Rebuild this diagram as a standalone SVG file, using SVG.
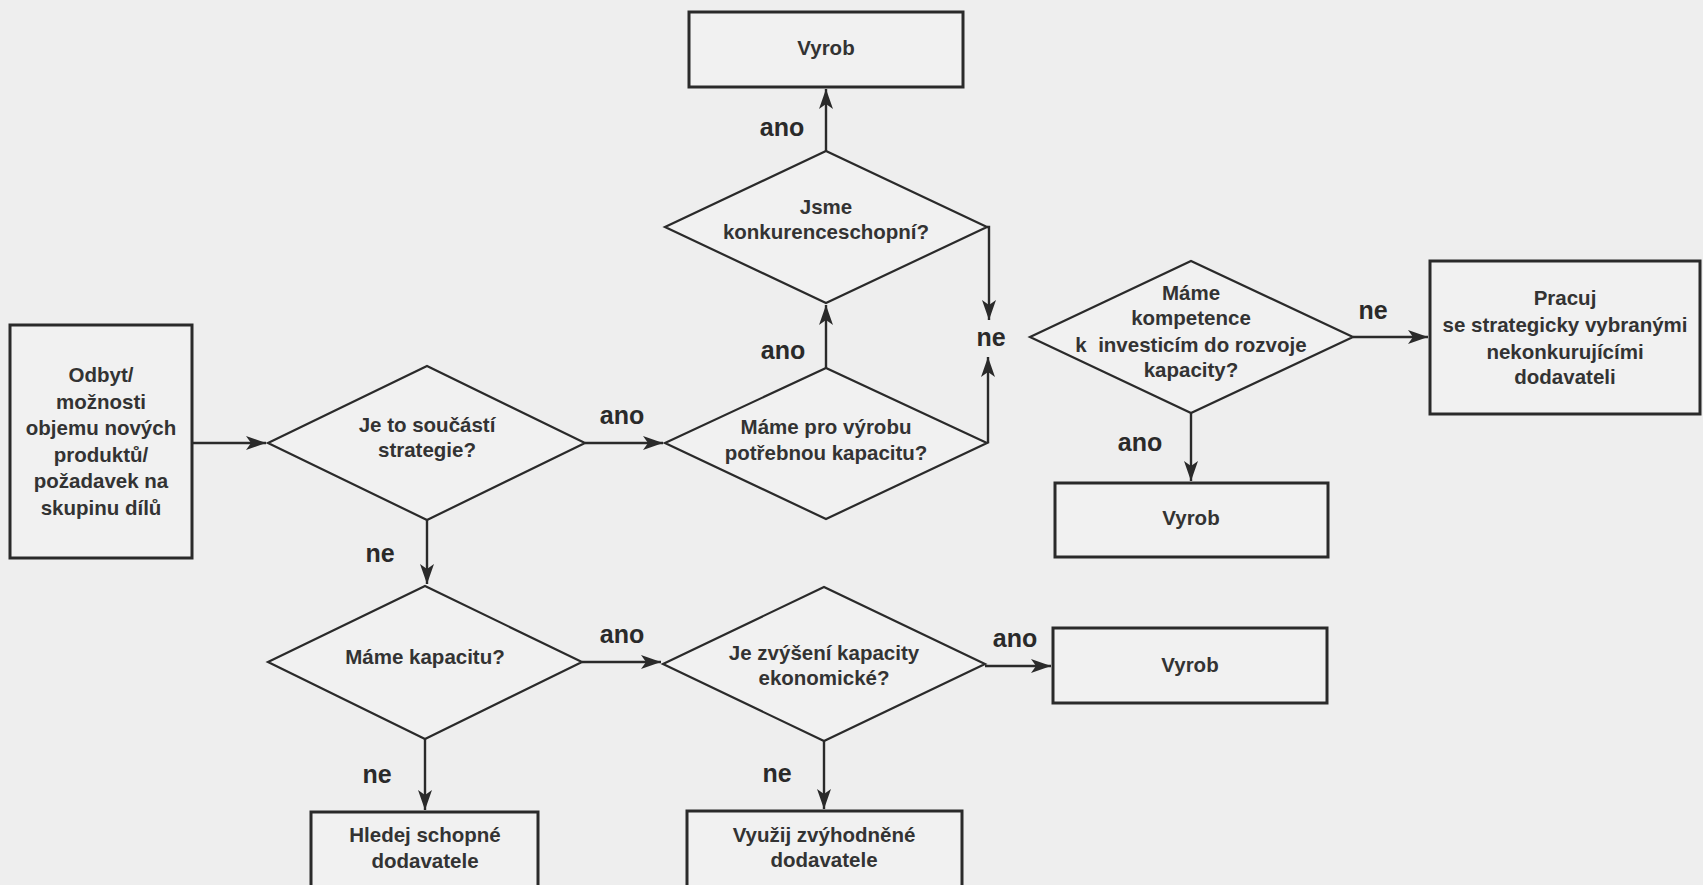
<svg xmlns="http://www.w3.org/2000/svg" width="1703" height="885" viewBox="0 0 1703 885">
<defs>
<style>
.bg{fill:#eeeeee}
.box{fill:#f1f1f1;stroke:#2a2a2a;stroke-width:3}
.dia{fill:#f1f1f1;stroke:#2a2a2a;stroke-width:2.2}
.t{font-family:"Liberation Sans",Arial,sans-serif;font-weight:bold;font-size:20.5px;fill:#333333;text-anchor:middle}
.lbl{font-family:"Liberation Sans",Arial,sans-serif;font-weight:bold;font-size:25px;fill:#2a2a2a;text-anchor:middle}
.c{fill:none;stroke:#2a2a2a;stroke-width:2.4}
</style>
<marker id="ah" markerUnits="userSpaceOnUse" markerWidth="20" markerHeight="14" refX="20" refY="7" orient="auto">
<path d="M0,0 L20,7 L0,14 L5,7 z" fill="#2a2a2a"/>
</marker>
</defs>
<rect class="bg" x="0" y="0" width="1703" height="885"/>

<g id="connectors">
<path class="c" d="M192,443 H266" marker-end="url(#ah)"/>
<path class="c" d="M585,443 H663" marker-end="url(#ah)"/>
<path class="c" d="M427,520 V584" marker-end="url(#ah)"/>
<path class="c" d="M826,368 V305" marker-end="url(#ah)"/>
<path class="c" d="M988,443 V357" marker-end="url(#ah)"/>
<path class="c" d="M826,151 V89" marker-end="url(#ah)"/>
<path class="c" d="M987,227 H989 V320" marker-end="url(#ah)"/>
<path class="c" d="M1353,337 H1428" marker-end="url(#ah)"/>
<path class="c" d="M1191,413 V481" marker-end="url(#ah)"/>
<path class="c" d="M582,662 H661" marker-end="url(#ah)"/>
<path class="c" d="M425,739 V810" marker-end="url(#ah)"/>
<path class="c" d="M985,666 H1051" marker-end="url(#ah)"/>
<path class="c" d="M824,741 V809" marker-end="url(#ah)"/>
<text class="lbl" x="622" y="415" dy="0.35em">ano</text>
<text class="lbl" x="380" y="553" dy="0.35em">ne</text>
<text class="lbl" x="783" y="350" dy="0.35em">ano</text>
<text class="lbl" x="782" y="127" dy="0.35em">ano</text>
<text class="lbl" x="991" y="337" dy="0.35em">ne</text>
<text class="lbl" x="1373" y="310" dy="0.35em">ne</text>
<text class="lbl" x="1140" y="442" dy="0.35em">ano</text>
<text class="lbl" x="622" y="634" dy="0.35em">ano</text>
<text class="lbl" x="377" y="774" dy="0.35em">ne</text>
<text class="lbl" x="1015" y="638" dy="0.35em">ano</text>
<text class="lbl" x="777" y="773" dy="0.35em">ne</text>
</g>

<g id="start">
<rect class="box" x="10" y="325" width="182" height="233"/>
<text class="t" x="101" y="375" dy="0.35em">Odbyt/</text>
<text class="t" x="101" y="401.5" dy="0.35em">možnosti</text>
<text class="t" x="101" y="428" dy="0.35em">objemu nových</text>
<text class="t" x="101" y="454.5" dy="0.35em">produktů/</text>
<text class="t" x="101" y="481" dy="0.35em">požadavek na</text>
<text class="t" x="101" y="507.5" dy="0.35em">skupinu dílů</text>
</g>

<g id="d-strategie">
<polygon class="dia" points="268,443 427,366 585,443 427,520"/>
<text class="t" x="427" y="425" dy="0.35em">Je to součástí</text>
<text class="t" x="427" y="450" dy="0.35em">strategie?</text>
</g>

<g id="d-vyroba">
<polygon class="dia" points="665,443 826,368 987,443 826,519"/>
<text class="t" x="826" y="427" dy="0.35em">Máme pro výrobu</text>
<text class="t" x="826" y="453" dy="0.35em">potřebnou kapacitu?</text>
</g>

<g id="d-konkurence">
<polygon class="dia" points="665,227 826,151 987,227 826,303"/>
<text class="t" x="826" y="207" dy="0.35em">Jsme</text>
<text class="t" x="826" y="232" dy="0.35em">konkurenceschopní?</text>
</g>

<g id="vyrob-top">
<rect class="box" x="689" y="12" width="274" height="75"/>
<text class="t" x="826" y="48" dy="0.35em">Vyrob</text>
</g>

<g id="d-kompetence">
<polygon class="dia" points="1030,337 1191,261 1353,337 1191,413"/>
<text class="t" x="1191" y="293" dy="0.35em">Máme</text>
<text class="t" x="1191" y="318" dy="0.35em">kompetence</text>
<text class="t" x="1191" y="345" dy="0.35em" xml:space="preserve">k  investicím do rozvoje</text>
<text class="t" x="1191" y="370" dy="0.35em">kapacity?</text>
</g>

<g id="pracuj">
<rect class="box" x="1430" y="261" width="270" height="153"/>
<text class="t" x="1565" y="298" dy="0.35em">Pracuj</text>
<text class="t" x="1565" y="325" dy="0.35em">se strategicky vybranými</text>
<text class="t" x="1565" y="352" dy="0.35em">nekonkurujícími</text>
<text class="t" x="1565" y="377" dy="0.35em">dodavateli</text>
</g>

<g id="vyrob-mid">
<rect class="box" x="1055" y="483" width="273" height="74"/>
<text class="t" x="1191" y="518" dy="0.35em">Vyrob</text>
</g>

<g id="d-kapacitu">
<polygon class="dia" points="268,662 425,586 582,662 425,739"/>
<text class="t" x="425" y="657" dy="0.35em">Máme kapacitu?</text>
</g>

<g id="d-ekonomicke">
<polygon class="dia" points="663,664 824,587 985,664 824,741"/>
<text class="t" x="824" y="653" dy="0.35em">Je zvýšení kapacity</text>
<text class="t" x="824" y="678" dy="0.35em">ekonomické?</text>
</g>

<g id="vyrob-low">
<rect class="box" x="1053" y="628" width="274" height="75"/>
<text class="t" x="1190" y="665" dy="0.35em">Vyrob</text>
</g>

<g id="hledej">
<rect class="box" x="311" y="812" width="227" height="100"/>
<text class="t" x="425" y="835" dy="0.35em">Hledej schopné</text>
<text class="t" x="425" y="861" dy="0.35em">dodavatele</text>
</g>

<g id="vyuzij">
<rect class="box" x="687" y="811" width="275" height="100"/>
<text class="t" x="824" y="835" dy="0.35em">Využij zvýhodněné</text>
<text class="t" x="824" y="860" dy="0.35em">dodavatele</text>
</g>
</svg>
